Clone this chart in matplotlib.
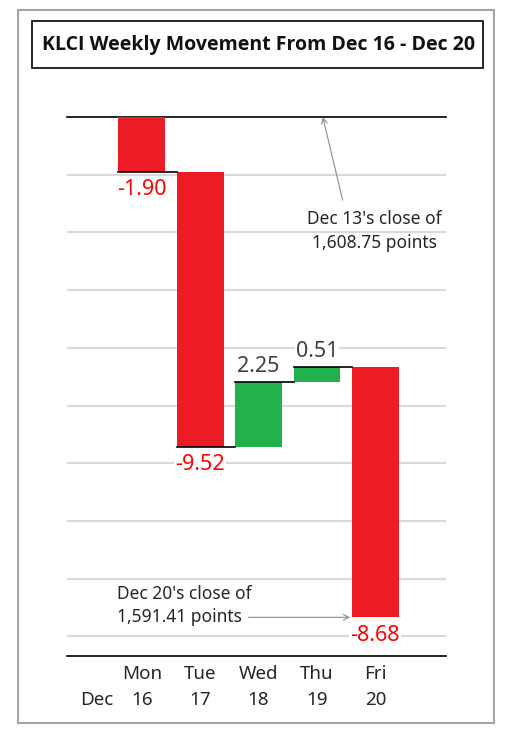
import matplotlib
matplotlib.use("Agg")
import matplotlib.pyplot as plt
from matplotlib.patches import Rectangle
import numpy as np

plt.rcParams['font.family'] = ['Noto Sans', 'DejaVu Sans']

days = ['Mon', 'Tue', 'Wed', 'Thu', 'Fri']
dates = ['16', '17', '18', '19', '20']
changes = [-1.90, -9.52, 2.25, 0.51, -8.68]
prev_close = 1608.75
last_close = 1591.41

RED = '#ED1C24'
GREEN = '#22B14C'
TXT = '#262626'
W, H = 509, 734


def fx(px):
    return px / W


def fy(py):
    return 1 - py / H


fig = plt.figure(figsize=(W / 100, H / 100), dpi=100)

# outer frame and title box
fig.patches.append(Rectangle((fx(18), fy(723)), fx(494) - fx(18), fy(10) - fy(723),
                             transform=fig.transFigure, fill=False, edgecolor='#A6A6A6', lw=1.5))
fig.patches.append(Rectangle((fx(32), fy(68)), fx(483) - fx(32), fy(21) - fy(68),
                             transform=fig.transFigure, fill=False, edgecolor='black', lw=1.2))
fig.text(fx(259), fy(45), 'KLCI Weekly Movement From Dec 16 - Dec 20',
         ha='center', va='center', fontsize=14, fontweight='bold', color='#111111',
         family=['Open Sans', 'DejaVu Sans'])

ax = fig.add_axes([fx(67), fy(656), fx(446) - fx(67), fy(117) - fy(656)])

x = np.arange(len(days))
starts = prev_close + np.concatenate([[0], np.cumsum(changes)[:-1]])
ends = starts + np.array(changes)
colors = [GREEN if c > 0 else RED for c in changes]
width = 0.8

ax.bar(x, changes, bottom=starts, width=width, color=colors, zorder=3)

# connectors from each bar's end level to the next bar
for i in range(len(x) - 1):
    ax.plot([x[i] - width / 2, x[i + 1] - width / 2], [ends[i], ends[i]],
            color='black', lw=1.2, zorder=4)

ax.axhline(prev_close, color='black', lw=1.2, clip_on=False, zorder=2)

# value labels
for i, c in enumerate(changes):
    if c < 0:
        off, col = -13, '#FF0000'
    else:
        off, col = 11, '#404040'
    ax.annotate(f'{c:.2f}', (x[i], ends[i]), xytext=(0, off), textcoords='offset points',
                ha='center', va='center', fontsize=15.5, color=col, zorder=5,
                bbox=dict(boxstyle='square,pad=0.05', fc='white', ec='none'))

# notes for the opening and closing levels
ax.text(3.99, 1604.8, "Dec 13's close of\n1,608.75 points", ha='center', va='center',
        fontsize=12.5, color=TXT, linespacing=1.4)
ax.annotate('', xy=(3.10, prev_close), xytext=(3.44, 1605.87),
            arrowprops=dict(arrowstyle='->', color='#8C8C8C', lw=0.8,
                            shrinkA=0, shrinkB=0))
ax.text(-0.43, 1591.82, "Dec 20's close of\n1,591.41 points", ha='left', va='center',
        fontsize=12.5, color=TXT, linespacing=1.4)
ax.annotate('', xy=(x[4] - width / 2 - 0.03, last_close), xytext=(1.83, last_close),
            arrowprops=dict(arrowstyle='->', color='#8C8C8C', lw=0.8,
                            shrinkA=0, shrinkB=0))

ax.set_xlim(-1.28, 5.21)
ax.set_ylim(1590.07, prev_close)
ax.set_yticks(prev_close - 2 * np.arange(1, 10))
ax.yaxis.grid(True, color='#D9D9D9', lw=1.5, zorder=0)
ax.tick_params(left=False, labelleft=False, bottom=False)
ax.set_xticks(x)
ax.set_xticklabels([f'{d}\n{n}' for d, n in zip(days, dates)], fontsize=13.5,
                   color=TXT, linespacing=1.6)
ax.tick_params(axis='x', pad=3)
ax.text(-0.77, 1588.54, 'Dec', ha='center', va='center', fontsize=13.5, color=TXT)
for side in ['top', 'left', 'right']:
    ax.spines[side].set_visible(False)
ax.spines['bottom'].set_color('black')
ax.spines['bottom'].set_linewidth(1.2)

fig.savefig('out.png', dpi=100)
